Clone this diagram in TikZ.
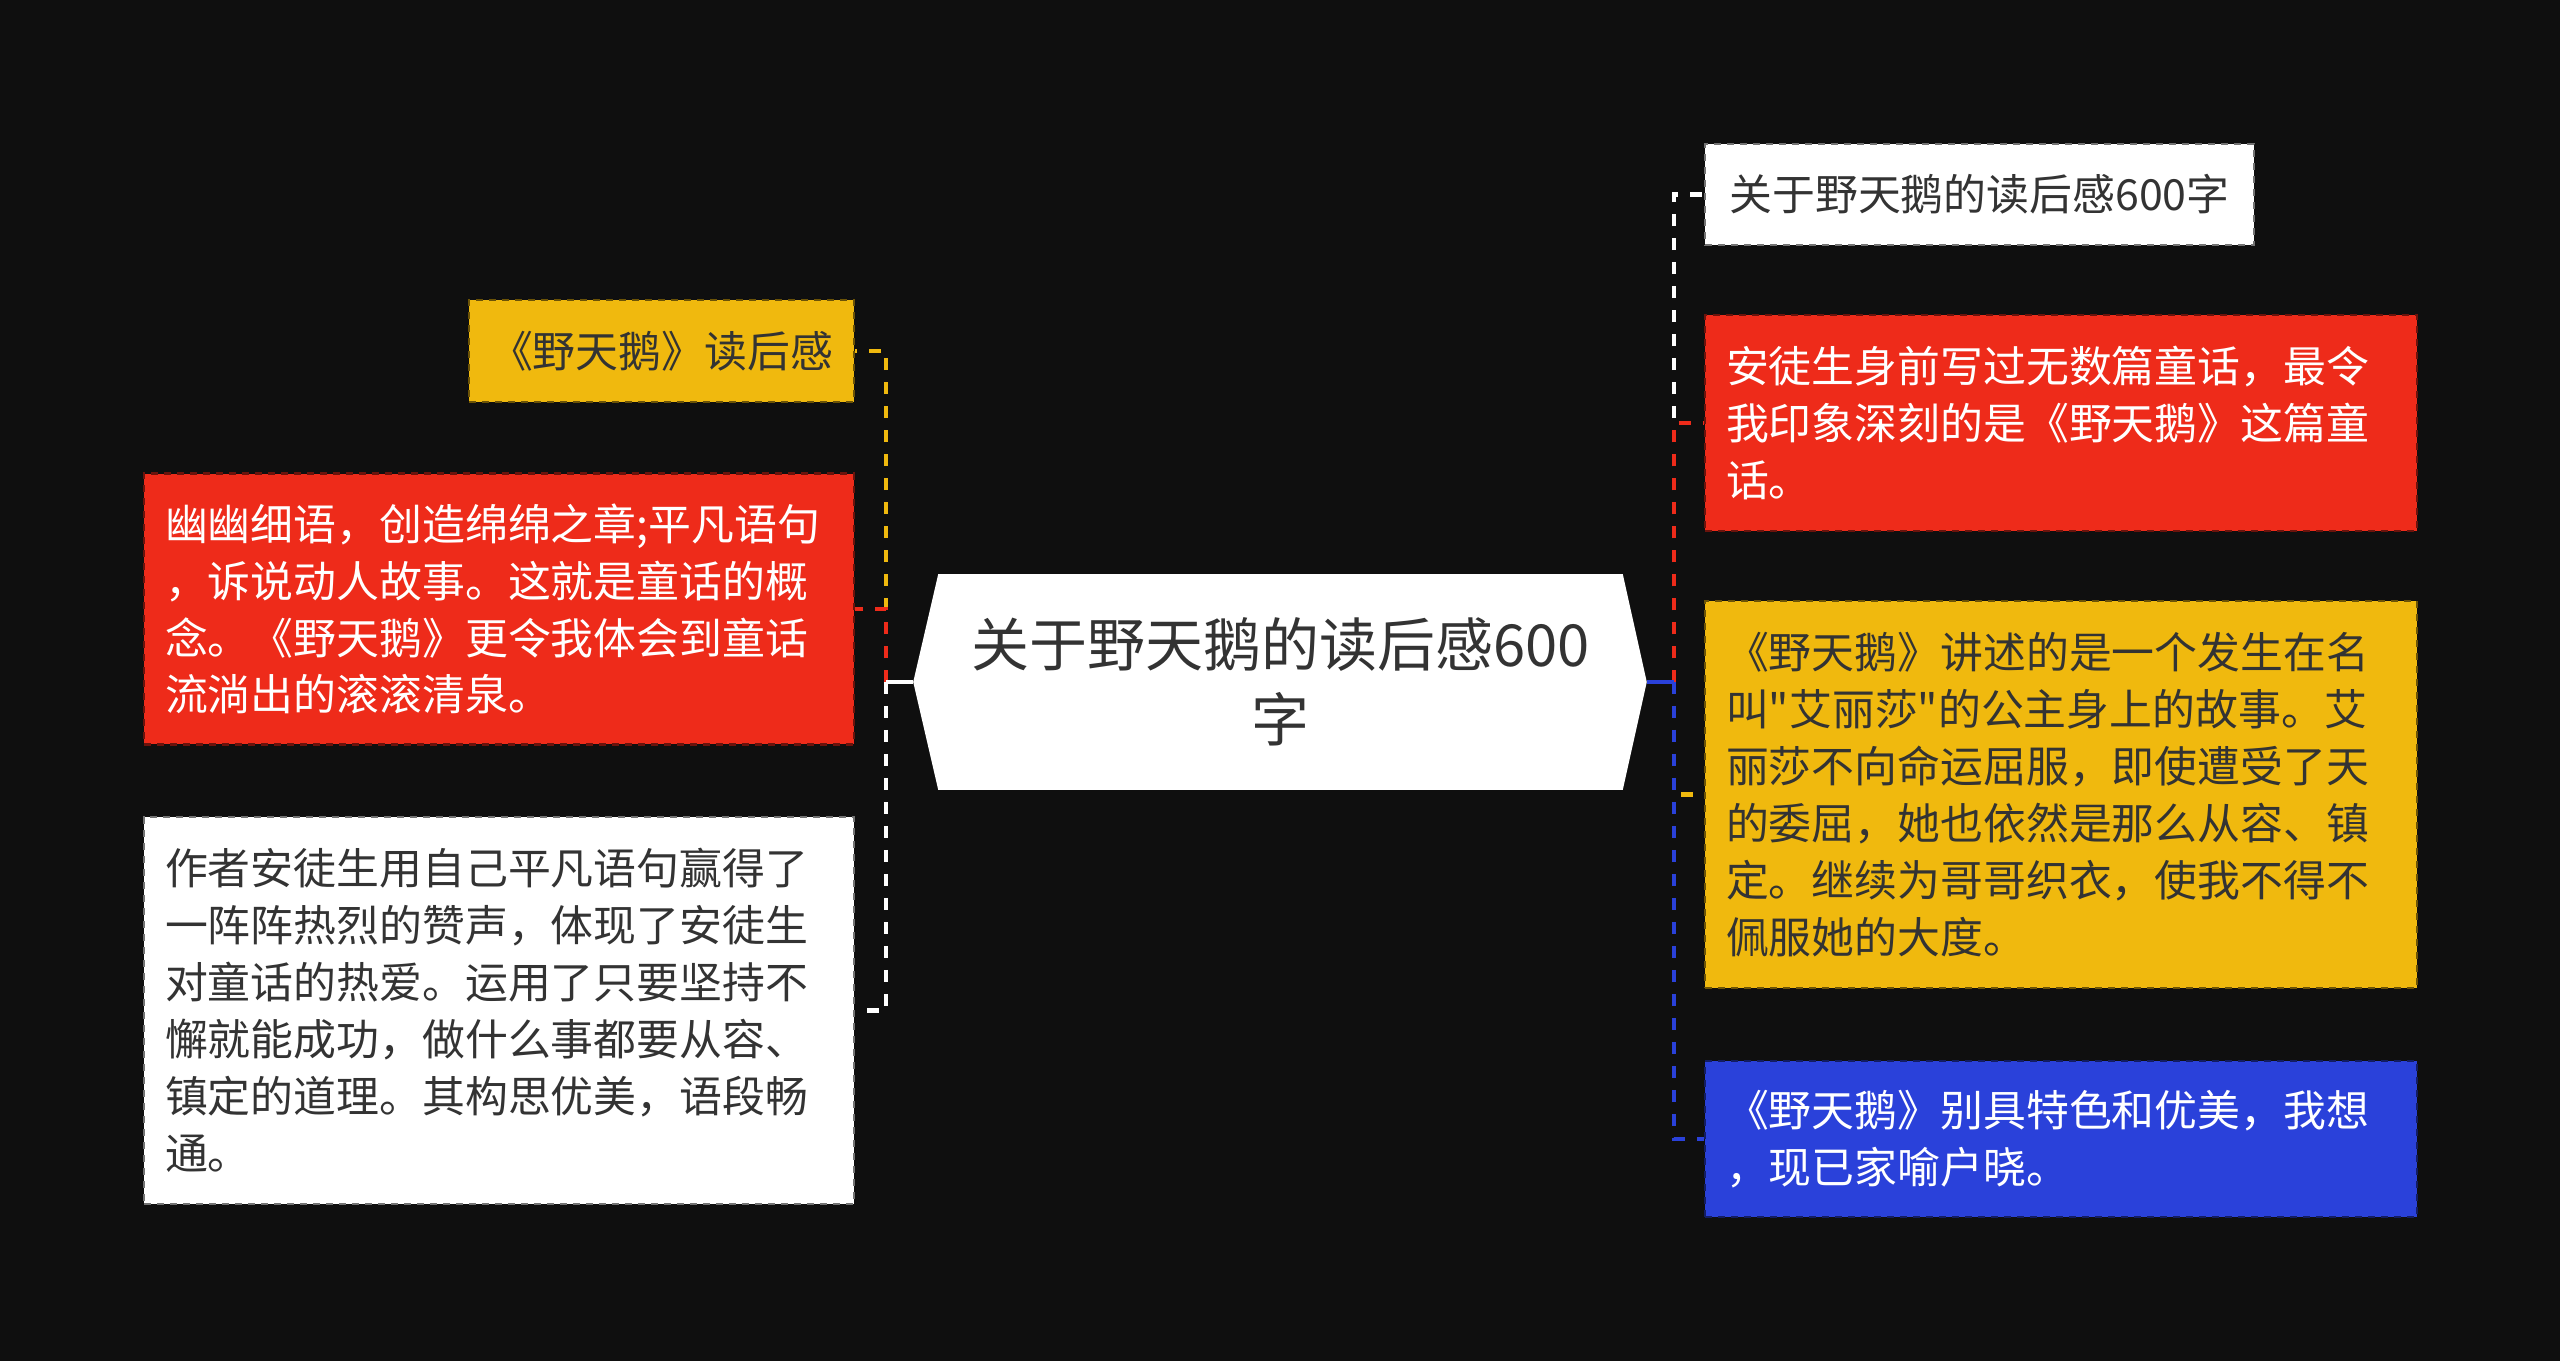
\documentclass[tikz,border=0pt]{standalone}
\usepackage{fontspec}
\setmainfont{Noto Sans CJK SC}[Ligatures=TeXOff]
\usepackage{xcolor}
\definecolor{nightBlack}{HTML}{0F0F0F}
\definecolor{inkGrey}{HTML}{333333}
\definecolor{goldYellow}{HTML}{F0B90E}
\definecolor{poppyRed}{HTML}{EE2B1A}
\definecolor{royalBlue}{HTML}{2A41DA}
\usepackage{tikz}
\tikzset{trunk/.style = {line width = 0.09cm}}
\tikzset{twig/.style = {line width = 0.09cm, dash pattern = on 0.24cm off 0.24cm}}
\usetikzlibrary{calc}
\usetikzlibrary{backgrounds}
\newcommand{\leaffont}{\fontsize{24.4pt}{32.4pt}\selectfont}
\newcommand{\topicfont}{\fontsize{33pt}{43pt}\selectfont}

\begin{document}
\begin{tikzpicture}[x = 0.02cm, y = -0.02cm,
	topic/.style = {rectangle, minimum width = 13.68cm, minimum height = 4.3cm, text = inkGrey, align = center, font = \topicfont},
	leaf/.style = {rectangle, fill = #1, draw = #1!45!black, line width = 0.05cm, dash pattern = on 0.14cm off 0.12cm, inner xsep = 0.42cm, align = left, font = \leaffont}]
	\begin{scope}[on background layer]
		\fill[nightBlack] (0, 0) rectangle (2560, 1361);
	\end{scope}

	%% Centre
	\node[topic] (center) at (1280.5, 682) {关于野天鹅的读后感600\\字};
	\coordinate (ltip) at ($(center.west) + (-25, 0)$);
	\coordinate (rtip) at ($(center.east) + (24, 0)$);
	\begin{scope}[on background layer] % From background library
		\fill[white] (ltip) -- (center.north west) -- (center.north east) -- (rtip) -- (center.south east) -- (center.south west) -- cycle;
	\end{scope}

	%% Left
	\node[leaf = goldYellow, text = inkGrey, minimum width = 7.7cm, minimum height = 2.04cm, align = center] (lyellow) at (661.5, 351) {《野天鹅》读后感};
	\node[leaf = poppyRed, text = white, text width = 13.36cm, minimum height = 5.42cm] (lred) at (499, 609) {幽幽细语，创造绵绵之章;平凡语句\\，诉说动人故事。这就是童话的概\\念。《野天鹅》更令我体会到童话\\流淌出的滚滚清泉。};
	\node[leaf = white, text = inkGrey, text width = 13.36cm, minimum height = 7.74cm] (lwhite) at (499, 1010.5) {作者安徒生用自己平凡语句赢得了\\一阵阵热烈的赞声，体现了安徒生\\对童话的热爱。运用了只要坚持不\\懈就能成功，做什么事都要从容、\\镇定的道理。其构思优美，语段畅\\通。};

	%% Right
	\node[leaf = white, text = inkGrey, minimum width = 10.98cm, minimum height = 2.02cm, align = center] (rwhite) at (1979.5, 194.5) {关于野天鹅的读后感600字};
	\node[leaf = poppyRed, text = white, text width = 13.4cm, minimum height = 4.32cm] (rred) at (2061, 423) {安徒生身前写过无数篇童话，最令\\我印象深刻的是《野天鹅》这篇童\\话。};
	\node[leaf = goldYellow, text = inkGrey, text width = 13.4cm, minimum height = 7.74cm] (ryellow) at (2061, 794.5) {《野天鹅》讲述的是一个发生在名\\叫"艾丽莎"的公主身上的故事。艾\\丽莎不向命运屈服，即使遭受了天\\的委屈，她也依然是那么从容、镇\\定。继续为哥哥织衣，使我不得不\\佩服她的大度。};
	\node[leaf = royalBlue, text = white, text width = 13.4cm, minimum height = 3.12cm] (rblue) at (2061, 1139) {《野天鹅》别具特色和优美，我想\\，现已家喻户晓。};

	%% Connectors...
	\coordinate (lspine) at (886, 682);
	\coordinate (rspine) at (1674, 682);

	% ... centre to left
	\draw[trunk, goldYellow] (ltip) -- (lspine);
	\draw[twig, goldYellow] (lspine) |- (lyellow.east);
	\draw[trunk, poppyRed] (ltip) -- (lspine);
	\draw[twig, poppyRed] (lspine) |- (lred.east);
	\draw[trunk, white] (ltip) -- (lspine);
	\draw[twig, white] (lspine) |- (lwhite.east);

	% ... centre to right
	\draw[trunk, white] (rtip) -- (rspine);
	\draw[twig, white] (rspine) |- (rwhite.west);
	\draw[trunk, poppyRed] (rtip) -- (rspine);
	\draw[twig, poppyRed] (rspine) |- (rred.west);
	\draw[trunk, goldYellow] (rtip) -- (rspine);
	\draw[twig, goldYellow] (rspine) |- (ryellow.west);
	\draw[trunk, royalBlue] (rtip) -- (rspine);
	\draw[twig, royalBlue] (rspine) |- (rblue.west);
\end{tikzpicture}
\end{document}
